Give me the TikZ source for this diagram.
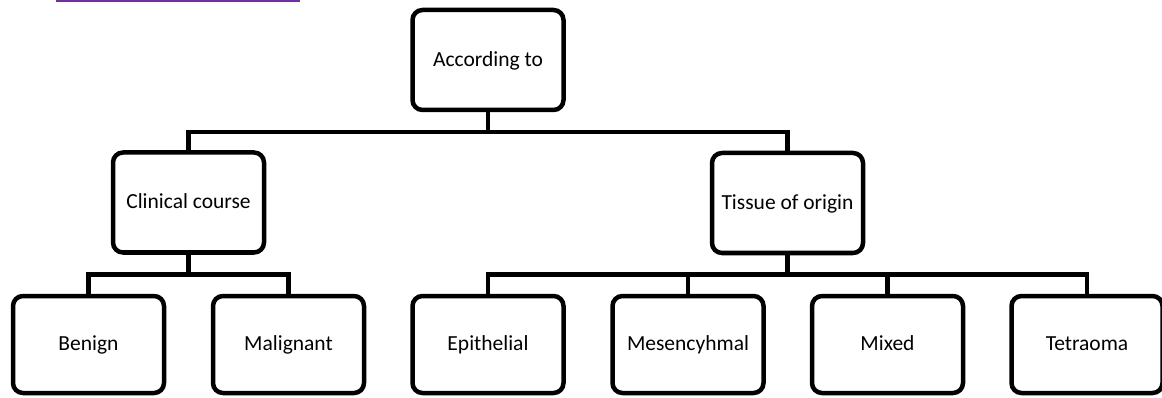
\documentclass[tikz,border=0pt]{standalone}
\usepackage{fontspec}
\setmainfont{Carlito}
\definecolor{linkpurple}{HTML}{7030A0}
\tikzset{
  box/.style={draw=black, line width=4.5pt, rounded corners=10pt, fill=white,
    minimum width=151pt, inner sep=0pt, text height=2.8ex, text depth=0.1ex,
    font=\fontsize{21.5}{25}\selectfont},
  upper/.style={box, minimum height=100pt},
  lower/.style={box, minimum height=97pt},
  conn/.style={draw=black, line width=4.3pt}
}
\begin{document}
\begin{tikzpicture}[x=1pt,y=-1pt]
\useasboundingbox (0,0) rectangle (1162,398);
\draw[linkpurple, line width=1.8pt] (56,0.9) -- (300,0.9);

\node[upper] (top) at (488,60) {According to};
\node[upper] (clin) at (188.5,202.5) {Clinical course};
\node[upper] (tiss) at (787.5,203) {Tissue of origin};

\node[lower] (ben) at (88.5,344.5) {Benign};
\node[lower] (mal) at (288.5,344.5) {Malignant};
\node[lower] (epi) at (488,344.5) {Epithelial};
\node[lower] (mes) at (688,344.5) {Mesencyhmal};
\node[lower] (mix) at (887.5,344.5) {Mixed};
\node[lower] (tet) at (1087,344.5) {Tetraoma};

\coordinate (b1) at (0,132);
\coordinate (b2) at (0,274.5);

\draw[conn] (top.south) -- (top.south |- b1) -| (clin.north);
\draw[conn] (top.south |- b1) -| (tiss.north);

\draw[conn] (clin.south) -- (clin.south |- b2) -| (ben.north);
\draw[conn] (clin.south |- b2) -| (mal.north);

\draw[conn] (tiss.south) -- (tiss.south |- b2) -| (epi.north);
\draw[conn] (tiss.south |- b2) -| (mes.north);
\draw[conn] (tiss.south |- b2) -| (mix.north);
\draw[conn] (tiss.south |- b2) -| (tet.north);
\end{tikzpicture}
\end{document}
